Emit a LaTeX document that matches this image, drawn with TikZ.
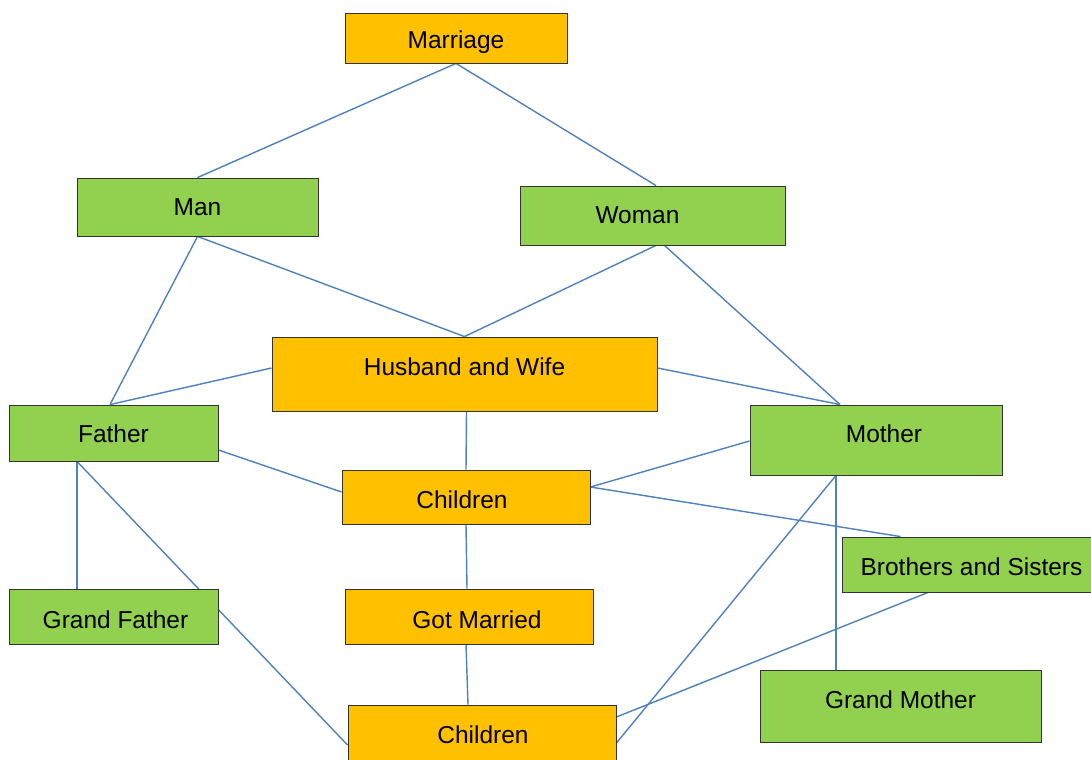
\documentclass[tikz,border=0pt]{standalone}
\usepackage{fontspec}
\setmainfont{Liberation Sans}
\usetikzlibrary{calc}
\definecolor{couple}{HTML}{FFC000}
\definecolor{person}{HTML}{92D050}
\definecolor{link}{HTML}{4F81BD}
\pgfdeclarelayer{bg}
\pgfsetlayers{bg,main}
\newcommand{\boxfont}{\fontsize{17.4}{20}\selectfont}

\begin{document}
\begin{tikzpicture}[x=0.025cm,y=-0.025cm,
    box/.style={draw=black!80,line width=0.6pt,inner sep=0pt},
    event/.style={box,fill=couple},
    member/.style={box,fill=person},
    say/.style 2 args={label={[font=\boxfont,inner sep=0pt,shift={#2}]center:#1}},
    tie/.style={link,line width=1pt}]
  \useasboundingbox (0,0) rectangle (1091,760);

  % Orange boxes
  \node[event,minimum width=5.55cm,minimum height=1.25cm,say={Marriage}{(0,4)}] (marriage) at (456,38) {};
  \node[event,minimum width=9.625cm,minimum height=1.85cm,say={Husband and Wife}{(0,-7)}] (husband) at (464.5,374) {};
  \node[event,minimum width=6.2cm,minimum height=1.35cm,say={Children}{(-4,3)}] (child) at (466,497) {};
  \node[event,minimum width=6.2cm,minimum height=1.375cm,say={Got Married}{(8,3)}] (married) at (469,616.5) {};
  \node[event,minimum width=6.7cm,minimum height=1.5cm,say={Children}{(1,0)}] (kids) at (482,735) {};

  % Green boxes
  \node[member,minimum width=6.025cm,minimum height=1.45cm,say={Man}{(0,0)}] (man) at (197.5,207) {};
  \node[member,minimum width=6.625cm,minimum height=1.475cm,say={Woman}{(-15,0)}] (woman) at (652.5,215.5) {};
  \node[member,minimum width=5.225cm,minimum height=1.4cm,say={Father}{(0,1)}] (father) at (113.5,433) {};
  \node[member,minimum width=6.3cm,minimum height=1.75cm,say={Mother}{(8,-6)}] (mother) at (876,440) {};
  \node[member,minimum width=6.325cm,minimum height=1.375cm,say={Brothers and Sisters}{(3,2)}] (siblings) at (968.5,564.5) {};
  \node[member,minimum width=5.225cm,minimum height=1.375cm,say={Grand Father}{(2,3)}] (gfather) at (113.5,616.5) {};
  \node[member,minimum width=7.025cm,minimum height=1.8cm,say={Grand Mother}{(0,-6)}] (gmother) at (900.5,706) {};

  % Links
  \begin{pgfonlayer}{bg}
    \draw[tie] (marriage.south) -- (man.north);
    \draw[tie] (marriage.south) -- ($(woman.north)+(3.5,0)$);
    \draw[tie] (man.south) -- (husband.north);
    \draw[tie] (man.south) -- ($(father.north)+(-3.5,0)$);
    \draw[tie] ($(woman.south)+(3.5,0)$) -- (husband.north);
    \draw[tie] ($(woman.south)+(12,0)$) -- ($(mother.north)+(-36,0)$);
    \draw[tie] ($(husband.west)+(0,-6)$) -- ($(father.north)+(-3.5,0)$);
    \draw[tie] ($(husband.east)+(0,-6)$) -- ($(mother.north)+(-36,0)$);
    \draw[tie] ($(husband.south)+(2,0)$) -- (child.north);
    \draw[tie] ($(father.east)+(0,17)$) -- ($(child.west)+(0,-5)$);
    \draw[tie] ($(mother.west)+(0,1)$) -- ($(child.east)+(0,-10)$);
    \draw[tie] ($(child.east)+(0,-10)$) -- ($(siblings.north)+(-68,0)$);
    \draw[tie] ($(father.south)+(-36.5,0)$) -- ($(gfather.north)+(-36.5,0)$);
    \draw[tie] ($(father.south)+(-36.5,0)$) -- ($(kids.west)+(0,10)$);
    \draw[tie] (child.south) -- ($(married.north)+(-2,0)$);
    \draw[tie] ($(married.south)+(-3,0)$) -- ($(kids.north)+(-14,0)$);
    \draw[tie] ($(mother.south)+(-40,0)$) -- ($(gmother.north)+(-64.5,0)$);
    \draw[tie] ($(mother.south)+(-40,0)$) -- ($(kids.east)+(0,8)$);
    \draw[tie] ($(siblings.south)+(-40.5,0)$) -- ($(kids.east)+(0,-18)$);
  \end{pgfonlayer}
\end{tikzpicture}
\end{document}
